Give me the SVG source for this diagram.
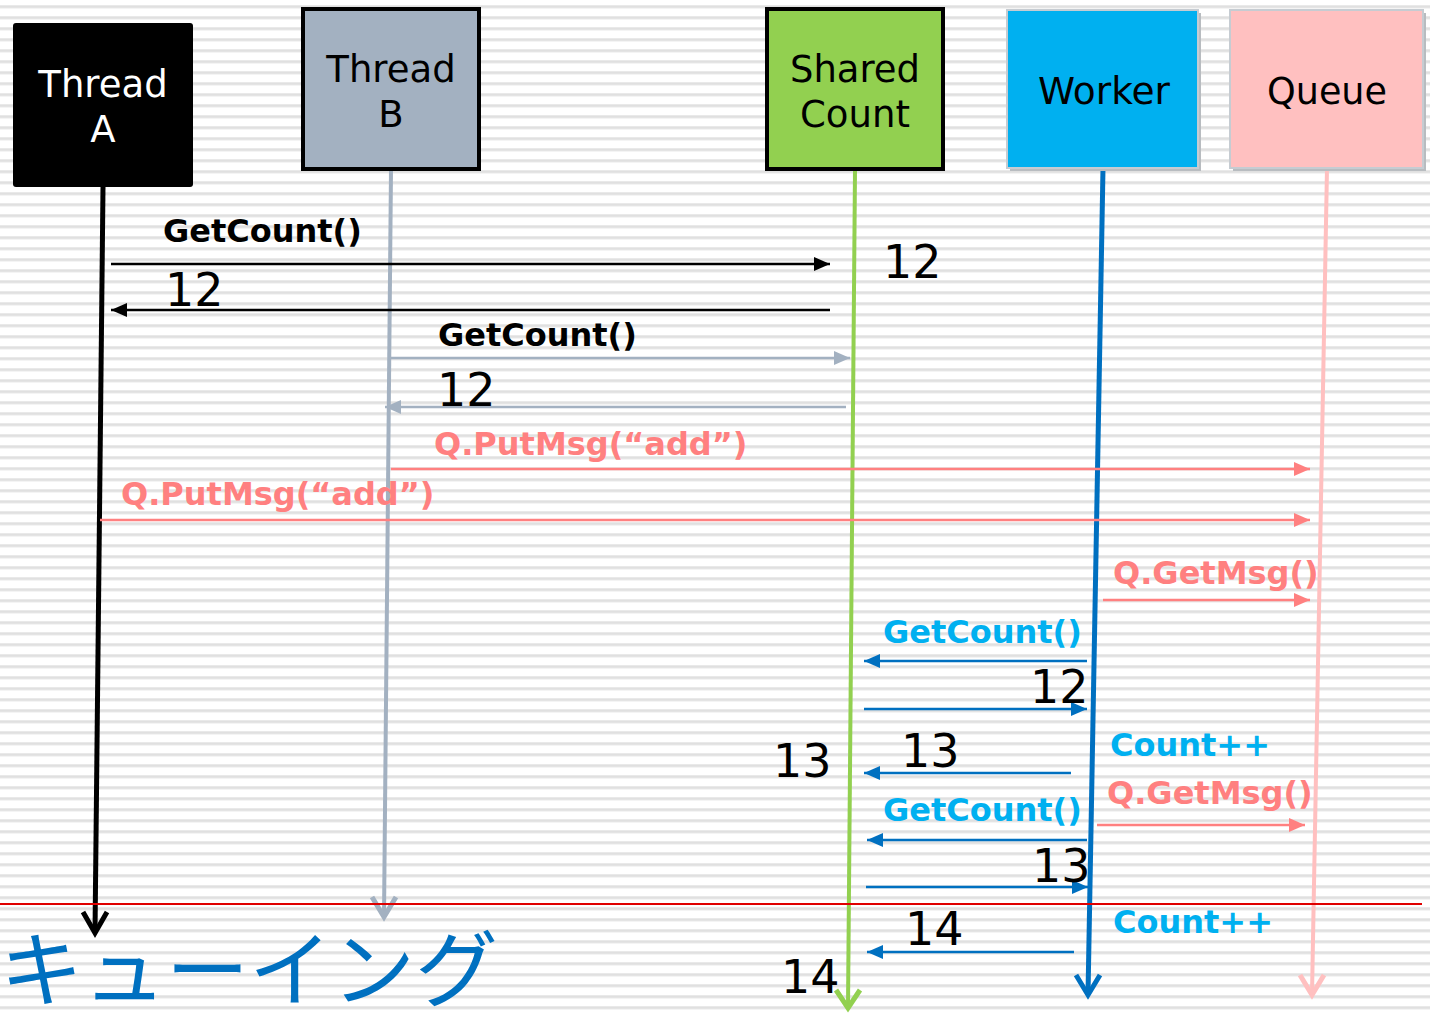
<svg xmlns="http://www.w3.org/2000/svg" width="1430" height="1013" viewBox="0 0 1430 1013">
<style>
.lbl{font-family:"DejaVu Sans","Liberation Sans",sans-serif;font-weight:bold;font-size:32px}
.num{font-family:"DejaVu Sans","Liberation Sans",sans-serif;font-size:46px;fill:#000}
.node{font-family:"DejaVu Sans","Liberation Sans",sans-serif;font-size:37px;text-anchor:middle}
.msg{fill:none;stroke-width:2.5}
</style>
<defs>
<pattern id="stripes" x="0" y="0" width="20" height="11" patternUnits="userSpaceOnUse">
<rect x="0" y="5" width="20" height="3.5" fill="#e9e9e9"/>
<rect x="0" y="6" width="20" height="1.5" fill="#e0e0e0"/>
</pattern>
<marker id="hBlack" viewBox="0 0 16 14" refX="16" refY="7" markerWidth="16" markerHeight="14" markerUnits="userSpaceOnUse" orient="auto"><path d="M0,0 L16,7 L0,14 Z" fill="#000"/></marker>
<marker id="hGray" viewBox="0 0 16 14" refX="16" refY="7" markerWidth="16" markerHeight="14" markerUnits="userSpaceOnUse" orient="auto"><path d="M0,0 L16,7 L0,14 Z" fill="#a3b1c1"/></marker>
<marker id="hSalmon" viewBox="0 0 16 14" refX="16" refY="7" markerWidth="16" markerHeight="14" markerUnits="userSpaceOnUse" orient="auto"><path d="M0,0 L16,7 L0,14 Z" fill="#ff8080"/></marker>
<marker id="hBlue" viewBox="0 0 16 14" refX="16" refY="7" markerWidth="16" markerHeight="14" markerUnits="userSpaceOnUse" orient="auto"><path d="M0,0 L16,7 L0,14 Z" fill="#0070c0"/></marker>
</defs>
<rect width="1430" height="1013" fill="#ffffff"/>
<rect width="1430" height="1013" fill="url(#stripes)"/>

<g id="lifelines">
<line x1="103" y1="187" x2="95" y2="933" stroke="#000" stroke-width="5"/>
<path d="M83,912 L95,933 L107,912" fill="none" stroke="#000" stroke-width="5"/>
<line x1="391" y1="170" x2="384" y2="917" stroke="#a3b1c1" stroke-width="4"/>
<path d="M372,897 L384,917 L396,897" fill="none" stroke="#a3b1c1" stroke-width="5"/>
<line x1="855" y1="170" x2="848" y2="1008" stroke="#92d050" stroke-width="4"/>
<path d="M836,990 L848,1008 L860,990" fill="none" stroke="#92d050" stroke-width="5"/>
<line x1="1103" y1="168" x2="1088" y2="995" stroke="#0070c0" stroke-width="5"/>
<path d="M1076,975 L1088,995 L1100,975" fill="none" stroke="#0070c0" stroke-width="5"/>
<line x1="1327" y1="168" x2="1312" y2="995" stroke="#ffc0c0" stroke-width="4"/>
<path d="M1300,975 L1312,995 L1324,975" fill="none" stroke="#ffc0c0" stroke-width="5"/>
</g>

<g id="threadA">
<rect x="13" y="23" width="180" height="164" rx="3" fill="#000"/>
<text class="node" x="103" y="97" fill="#fff">Thread</text>
<text class="node" x="103" y="142" fill="#fff">A</text>
</g>
<g id="threadB">
<rect x="303" y="9" width="176" height="160" fill="#a3b1c1" stroke="#000" stroke-width="4"/>
<text class="node" x="391" y="82" fill="#000">Thread</text>
<text class="node" x="391" y="127" fill="#000">B</text>
</g>
<g id="sharedCount">
<rect x="767" y="9" width="176" height="160" fill="#92d050" stroke="#000" stroke-width="4"/>
<text class="node" x="855" y="82" fill="#000" textLength="130" lengthAdjust="spacingAndGlyphs">Shared</text>
<text class="node" x="855" y="127" fill="#000" textLength="110" lengthAdjust="spacingAndGlyphs">Count</text>
</g>
<g id="worker">
<rect x="1010" y="13" width="191" height="158" fill="#b8bcc0"/>
<rect x="1007" y="10" width="191" height="158" fill="#00b0f0" stroke="#c6ccd2" stroke-width="2"/>
<text class="node" x="1104" y="104" fill="#000" textLength="132" lengthAdjust="spacingAndGlyphs">Worker</text>
</g>
<g id="queue">
<rect x="1233" y="13" width="193" height="158" fill="#b8bcc0"/>
<rect x="1230" y="10" width="193" height="158" fill="#ffc0c0" stroke="#c6ccd2" stroke-width="2"/>
<text class="node" x="1327" y="104" fill="#000" textLength="120" lengthAdjust="spacingAndGlyphs">Queue</text>
</g>

<g id="connectors">
<line class="msg" x1="111" y1="264" x2="830" y2="264" stroke="#000" marker-end="url(#hBlack)"/>
<line class="msg" x1="830" y1="310" x2="111" y2="310" stroke="#000" marker-end="url(#hBlack)"/>
<line class="msg" x1="391" y1="358" x2="850" y2="358" stroke="#a3b1c1" marker-end="url(#hGray)"/>
<line class="msg" x1="846" y1="407" x2="385" y2="407" stroke="#a3b1c1" marker-end="url(#hGray)"/>
<line class="msg" x1="391" y1="469" x2="1310" y2="469" stroke="#ff8080" marker-end="url(#hSalmon)"/>
<line class="msg" x1="100" y1="520" x2="1310" y2="520" stroke="#ff8080" marker-end="url(#hSalmon)"/>
<line class="msg" x1="1103" y1="600" x2="1310" y2="600" stroke="#ff8080" marker-end="url(#hSalmon)"/>
<line class="msg" x1="1087" y1="661" x2="864" y2="661" stroke="#0070c0" marker-end="url(#hBlue)"/>
<line class="msg" x1="864" y1="709" x2="1087" y2="709" stroke="#0070c0" marker-end="url(#hBlue)"/>
<line class="msg" x1="1071" y1="773" x2="864" y2="773" stroke="#0070c0" marker-end="url(#hBlue)"/>
<line class="msg" x1="1097" y1="825" x2="1305" y2="825" stroke="#ff8080" marker-end="url(#hSalmon)"/>
<line class="msg" x1="1087" y1="840" x2="867" y2="840" stroke="#0070c0" marker-end="url(#hBlue)"/>
<line class="msg" x1="866" y1="887" x2="1088" y2="887" stroke="#0070c0" marker-end="url(#hBlue)"/>
<line class="msg" x1="1074" y1="952" x2="867" y2="952" stroke="#0070c0" marker-end="url(#hBlue)"/>
<line x1="0" y1="904" x2="1422" y2="904" stroke="#e00000" stroke-width="2"/>
</g>

<g id="labels">
<text class="lbl" x="163" y="242" fill="#000">GetCount()</text>
<text class="num" x="165" y="306">12</text>
<text class="num" x="883" y="278">12</text>
<text class="lbl" x="438" y="346" fill="#000">GetCount()</text>
<text class="num" x="437" y="406">12</text>
<text class="lbl" x="434" y="455" fill="#ff8080">Q.PutMsg(“add”)</text>
<text class="lbl" x="121" y="505" fill="#ff8080">Q.PutMsg(“add”)</text>
<text class="lbl" x="1113" y="584" fill="#ff8080">Q.GetMsg()</text>
<text class="lbl" x="883" y="643" fill="#00b0f0">GetCount()</text>
<text class="num" x="1030" y="703">12</text>
<text class="lbl" x="1110" y="756" fill="#00b0f0">Count++</text>
<text class="num" x="901" y="767">13</text>
<text class="num" x="773" y="777">13</text>
<text class="lbl" x="1107" y="804" fill="#ff8080">Q.GetMsg()</text>
<text class="lbl" x="883" y="821" fill="#00b0f0">GetCount()</text>
<text class="num" x="1032" y="882">13</text>
<text class="lbl" x="1113" y="933" fill="#00b0f0">Count++</text>
<text class="num" x="905" y="945">14</text>
<text class="num" x="781" y="993">14</text>
<text x="0" y="1000" font-family="'Noto Sans CJK JP',sans-serif" font-size="83" fill="#0070c0">キューイング</text>
</g>
</svg>
